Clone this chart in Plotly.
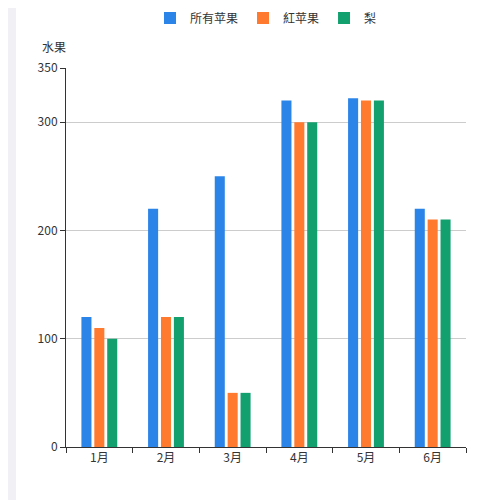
import plotly.graph_objects as go

months = ["1月", "2月", "3月", "4月", "5月", "6月"]
all_apples = [120, 220, 250, 320, 322, 220]
red_apples = [110, 120, 50, 300, 320, 210]
pears = [100, 120, 50, 300, 320, 210]
y_ticks = [0, 100, 200, 300, 350]

fig = go.Figure()
for name, vals, col in [("所有苹果", all_apples, "#2b84e8"),
                        ("紅苹果", red_apples, "#ff7a2f"),
                        ("梨", pears, "#13a06f")]:
    fig.add_bar(x=months, y=vals, name=name, marker_color=col, marker_line_width=0)

fig.update_layout(
    width=500, height=500,
    margin=dict(l=58, r=42, t=60, b=61, autoexpand=False),
    plot_bgcolor="white", paper_bgcolor="white",
    font=dict(family="Noto Sans CJK SC", size=12, color="#333"),
    bargap=0.42, bargroupgap=0.22,
    legend=dict(orientation="h", x=0.5, xanchor="center", y=1.17, yanchor="top",
                font=dict(size=12, color="#333")),
    showlegend=True,
    shapes=[dict(type="rect", xref="paper", yref="paper", x0=-0.145, x1=-0.125,
                 y0=-0.161, y1=1.158, fillcolor="#f0f0f5", line_width=0, layer="below")],
    annotations=[dict(text="水果", xref="paper", yref="paper", x=-0.03, y=1.03,
                      xanchor="center", yanchor="bottom", showarrow=False,
                      font=dict(size=12, color="#333"))],
)
fig.update_xaxes(showline=True, linecolor="#333", ticks="outside", tickson="boundaries",
                 ticklen=5, tickcolor="#333", showgrid=False)
fig.update_yaxes(range=[0, 350], tickvals=y_ticks, showline=True, linecolor="#333",
                 ticks="outside", ticklen=5, tickcolor="#333", showgrid=True,
                 gridcolor="#ccc", zeroline=False)
fig.write_html("out.html")
